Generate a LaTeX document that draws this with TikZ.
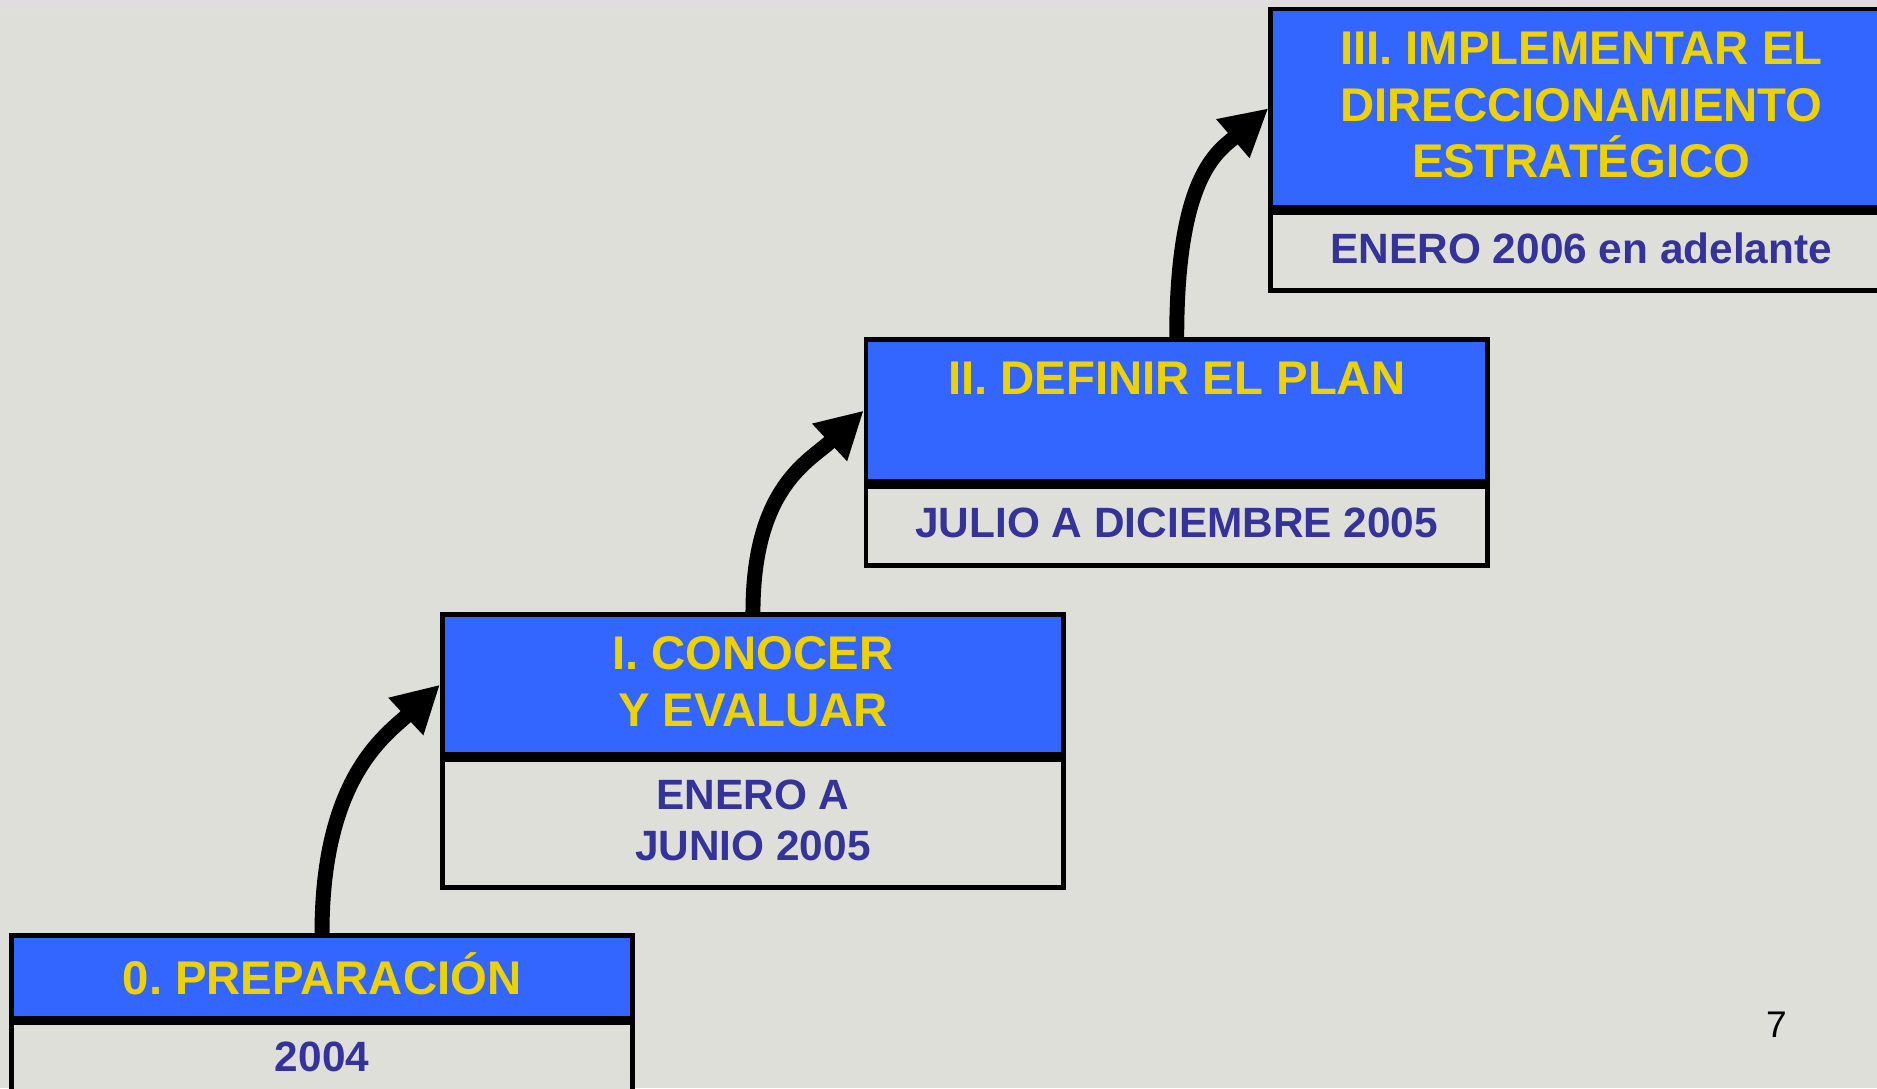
\documentclass[tikz,border=0pt]{standalone}
\usepackage{fontspec}
\setmainfont{Liberation Sans}
\usetikzlibrary{arrows.meta}
\definecolor{bg}{HTML}{DFDFDA}
\definecolor{stepblue}{HTML}{3366FF}
\definecolor{stepyellow}{HTML}{EED200}
\definecolor{stepnavy}{HTML}{333399}
\definecolor{topstrip}{HTML}{E3DBE3}
\frenchspacing
\begin{document}
\begin{tikzpicture}[x=0.5pt,y=-0.5pt,
  titlebox/.style={draw=black, line width=2pt, fill=stepblue, text=stepyellow,
    font=\bfseries\fontsize{19.75}{23.75}\selectfont, align=center,
    minimum width=259.5pt, inner sep=0pt, text depth=3pt, anchor=north west},
  datebox/.style={draw=black, line width=2pt, fill=bg, text=stepnavy,
    font=\bfseries\fontsize{17.7}{21.5}\selectfont, align=center,
    minimum width=259.5pt, inner sep=0pt, text depth=3pt, anchor=north},
  stepconn/.style={line width=6.25pt, -{Triangle[length=19.5pt,width=20pt]}}]
\useasboundingbox (0,0) rectangle (1568,909);
\fill[bg] (0,0) rectangle (1568,909);
\shade[top color=topstrip,bottom color=bg] (0,0) rectangle (1568,8);

% step 0
\node[titlebox, minimum height=34.5pt] (t0) at (7.5,779.5) {0. PREPARACIÓN};
\node[datebox, minimum height=31.5pt] (d0) at (t0.south) {2004};
% step I
\node[titlebox, minimum height=58.5pt] (t1) at (367.5,511.5) {I. CONOCER\\Y EVALUAR};
\node[datebox, minimum height=53.5pt] (d1) at (t1.south) {ENERO A\\JUNIO 2005};
% step II
\node[titlebox, minimum height=59.5pt] (t2) at (721.5,281.5) {II. DEFINIR EL PLAN\\\mbox{}};
\node[datebox, minimum height=33pt] (d2) at (t2.south) {JULIO A DICIEMBRE 2005};
% step III
\node[titlebox, minimum height=83pt] (t3) at (1059.5,5.5) {III. IMPLEMENTAR EL\\DIRECCIONAMIENTO\\ESTRATÉGICO};
\node[datebox, minimum height=32.5pt] (d3) at (t3.south) {ENERO 2006 en adelante};

% connectors
\draw[stepconn] (t0.north) .. controls +(0,-130) and +(-45,42) .. (t1.west);
\draw[stepconn] (t1.north) .. controls +(0,-105) and +(-45,42) .. (t2.west);
\draw[stepconn] (t2.north) .. controls +(0,-135) and +(-42,36) .. (t3.west);

% page number
\node[font=\fontsize{15.5}{18}\selectfont, inner sep=0pt] (pg) at (1484,856) {7};
\end{tikzpicture}
\end{document}
